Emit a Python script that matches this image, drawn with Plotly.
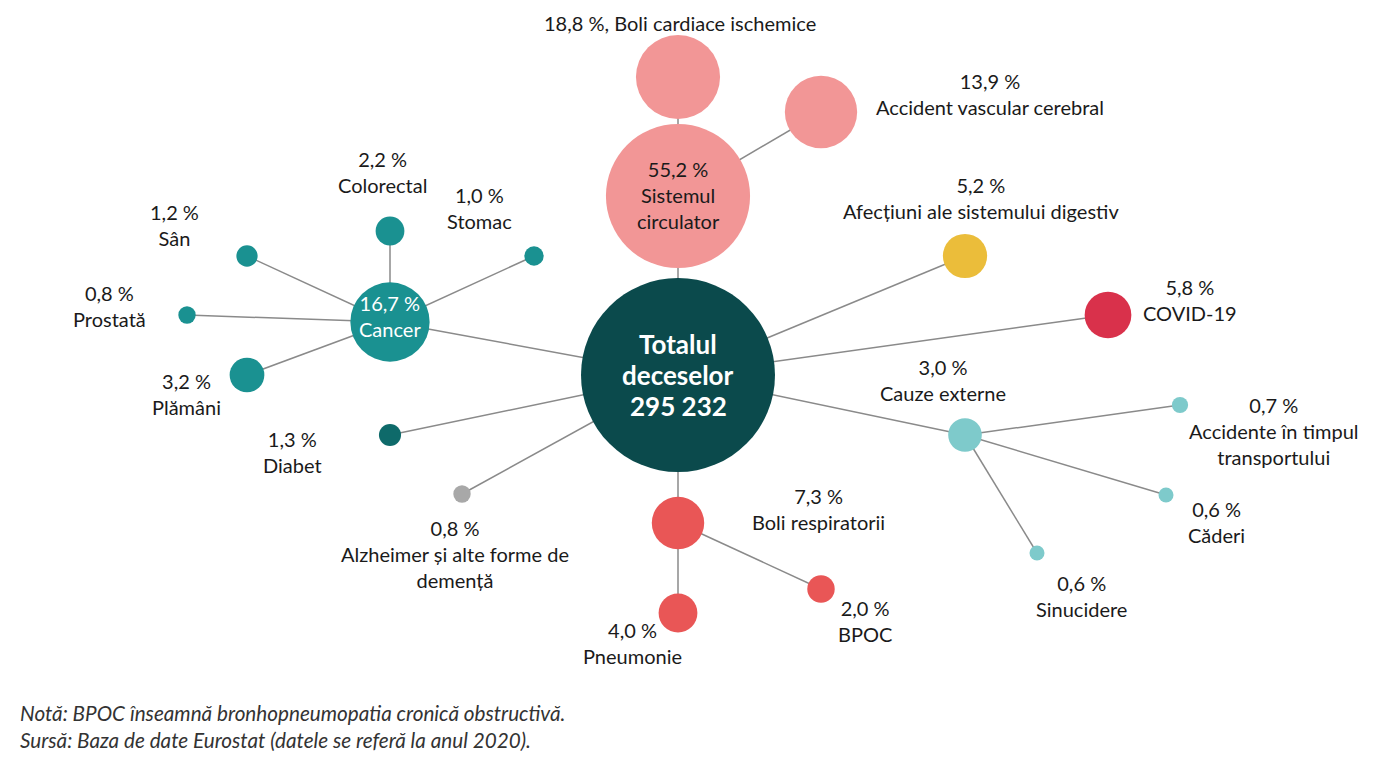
import math
import plotly.graph_objects as go

# ---- data ----
node_names = ["Totalul deceselor", "Sistemul circulator", "Boli cardiace ischemice",
              "Accident vascular cerebral", "Cancer", "Colorectal", "Stomac", "Sân",
              "Prostată", "Plămâni", "Diabet", "Alzheimer și alte forme de demență",
              "Afecțiuni ale sistemului digestiv", "COVID-19", "Cauze externe",
              "Accidente în timpul transportului", "Căderi", "Sinucidere",
              "Boli respiratorii", "Pneumonie", "BPOC"]
node_pct = [100.0, 55.2, 18.8, 13.9, 16.7, 2.2, 1.0, 1.2, 0.8, 3.2, 1.3, 0.8,
            5.2, 5.8, 3.0, 0.7, 0.6, 0.6, 7.3, 4.0, 2.0]
node_parent = [None, 0, 1, 1, 0, 4, 4, 4, 4, 4, 0, 0, 0, 0, 0, 14, 14, 14, 0, 18, 18]
total_deaths = "295 232"

# ---- layout (pixel positions of the nodes) ----
node_x = [678, 678, 678, 821, 390, 390, 534, 247, 187, 247, 390, 462,
          965, 1108, 965, 1180, 1166, 1037, 678, 678, 821]
node_y = [375, 196, 77, 112, 322, 231, 256, 256, 315, 375, 435, 494,
          256, 315, 435, 405, 495, 553, 523, 613, 589]
node_color = ["#0b4a4c", "#f29696", "#f29696", "#f29696", "#1a9191", "#1a9191",
              "#1a9191", "#1a9191", "#1a9191", "#1a9191", "#0e6a6a", "#a8a8a8",
              "#ebbd3a", "#d9314b", "#7ecacb", "#7ecacb", "#7ecacb", "#7ecacb",
              "#e95656", "#e95656", "#e95656"]

def fmt(p):
    return ("%.1f" % p).replace(".", ",") + " %"

fig = go.Figure()

# edges
ex, ey = [], []
for i, par in enumerate(node_parent):
    if par is None:
        continue
    ex += [node_x[par], node_x[i], None]
    ey += [node_y[par], node_y[i], None]
fig.add_trace(go.Scatter(x=ex, y=ey, mode="lines",
                         line=dict(color="#8a8a8a", width=1.5),
                         hoverinfo="skip", showlegend=False))

# nodes
sizes = [19.4 * math.sqrt(p) for p in node_pct]
fig.add_trace(go.Scatter(x=node_x, y=node_y, mode="markers",
                         marker=dict(size=sizes, sizemode="diameter", color=node_color,
                                     opacity=1, line=dict(width=0)),
                         text=node_names, hoverinfo="text", showlegend=False))

# labels: (node index, x, y, mode)
label_pos = {
    2: (680, 23, "one"),
    3: (990, 94, None),
    5: (382, 172, None),
    6: (479, 208, None),
    7: (174, 225, None),
    8: (109, 306, None),
    9: (186, 394, None),
    10: (292, 452, None),
    11: (455, 554, None),
    12: (981, 198, None),
    13: (1190, 300, None),
    14: (943, 380, None),
    15: (1274, 431, None),
    16: (1216, 522, None),
    17: (1081, 596, None),
    18: (818, 509, None),
    19: (632, 643, None),
    20: (865, 621, None),
}
wrapped = {
    11: "Alzheimer și alte forme de<br>demență",
    15: "Accidente în timpul<br>transportului",
}
font_fam = "Lato, 'Open Sans', sans-serif"
LBL = 20
for i, (lx, ly, mode) in label_pos.items():
    name = wrapped.get(i, node_names[i])
    if mode == "one":
        txt = fmt(node_pct[i]) + ", " + name
    else:
        txt = fmt(node_pct[i]) + "<br>" + name
    fig.add_annotation(x=lx, y=ly, text=txt, showarrow=False,
                       font=dict(family=font_fam, size=LBL, color="#1a1a1a"),
                       align="center", xanchor="center", yanchor="middle")

# inner labels
fig.add_annotation(x=node_x[1], y=node_y[1] - 1,
                   text=fmt(node_pct[1]) + "<br>Sistemul<br>circulator",
                   showarrow=False, font=dict(family=font_fam, size=LBL, color="#1a1a1a"),
                   align="center")
fig.add_annotation(x=node_x[4], y=node_y[4] - 6,
                   text=fmt(node_pct[4]) + "<br>" + node_names[4],
                   showarrow=False, font=dict(family=font_fam, size=LBL, color="white"),
                   align="center")
for k, line in enumerate(["Totalul", "deceselor", total_deaths]):
    fig.add_annotation(x=node_x[0], y=node_y[0] - 31 + 31 * k,
                       text="<b>" + line + "</b>",
                       showarrow=False, font=dict(family=font_fam, size=26, color="white"),
                       align="center", yanchor="middle")

# footer
fig.add_annotation(x=18, y=713, xanchor="left", yanchor="middle", showarrow=False,
                   text="<i>Notă: BPOC înseamnă bronhopneumopatia cronică obstructivă.</i>",
                   font=dict(family=font_fam, size=20.7, color="#333333"))
fig.add_annotation(x=18, y=740, xanchor="left", yanchor="middle", showarrow=False,
                   text="<i>Sursă: Baza de date Eurostat (datele se referă la anul 2020).</i>",
                   font=dict(family=font_fam, size=20.7, color="#333333"))

# the page body has an 8px margin; shift axis ranges so data units equal page pixels
W, H, OFF = 1361, 751, 8
fig.update_layout(width=W, height=H, margin=dict(l=0, r=0, t=0, b=0),
                  plot_bgcolor="white", paper_bgcolor="white",
                  xaxis=dict(range=[OFF, OFF + W], visible=False, fixedrange=True),
                  yaxis=dict(range=[OFF + H, OFF], visible=False, fixedrange=True))

fig.write_html("out.html")
